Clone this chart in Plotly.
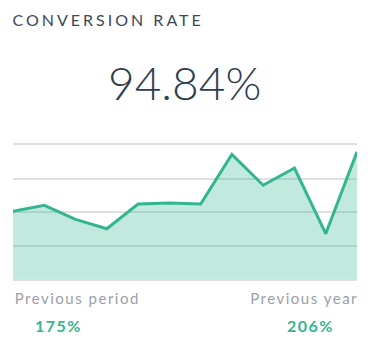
import plotly.graph_objects as go

# Conversion rate per period (%)
periods = list(range(12))
rates = [50.5, 55.0, 44.5, 37.5, 56.0, 56.7, 56.0, 93.0, 70.0, 82.8, 33.8, 94.84]

title_text = "CONVERSION RATE"
headline = "94.84%"
compare_labels = ["Previous period", "Previous year"]
compare_values = ["175%", "206%"]

W, H = 368, 349
GREEN = "#33b68f"
FILL = "rgba(51,182,143,0.30)"
GRID = "#e0e0e0"

fig = go.Figure()
fig.add_trace(go.Scatter(
    x=periods, y=rates, mode="lines",
    line=dict(color=GREEN, width=3),
    fill="tozeroy", fillcolor=FILL,
    hoverinfo="skip",
))

def px(x):
    return x / W

def py(y):
    return 1 - y / H

# Text is centred on its box, so every label is placed by its centre
annotations = [
    dict(text=title_text, x=px(108), y=py(19),
         font=dict(family="Lato", size=16, color="#3c4858")),
    dict(text=headline, x=px(185), y=py(83),
         font=dict(family="Lato", size=46, color="#2c3e50", weight=300)),
    dict(text=compare_labels[0], x=px(77), y=py(298),
         font=dict(family="Lato", size=15, color="#9aa0a8")),
    dict(text=compare_labels[1], x=px(304.5), y=py(298),
         font=dict(family="Lato", size=15, color="#9aa0a8")),
    dict(text="<b>%s</b>" % compare_values[0], x=px(58.5), y=py(325),
         font=dict(family="Lato", size=16, color=GREEN)),
    dict(text="<b>%s</b>" % compare_values[1], x=px(310), y=py(325),
         font=dict(family="Lato", size=16, color=GREEN)),
]
for a in annotations:
    a.update(xref="paper", yref="paper", showarrow=False,
             xanchor="center", yanchor="middle")

fig.update_layout(
    width=W, height=H,
    margin=dict(l=0, r=0, t=0, b=0),
    paper_bgcolor="white", plot_bgcolor="white",
    showlegend=False,
    annotations=annotations,
    xaxis=dict(domain=[13 / W, 357 / W], range=[0, 11], showgrid=False,
               zeroline=False, showticklabels=False, ticks="", fixedrange=True,
               showline=True, mirror=True, linecolor=GRID, linewidth=1.5),
    yaxis=dict(domain=[(H - 279) / H, (H - 145) / H], range=[0, 100],
               tickvals=[0, 25, 50, 75, 100], showticklabels=False, ticks="",
               showgrid=True, gridcolor=GRID, gridwidth=1.5,
               zeroline=False, fixedrange=True),
)

# Letter spacing for the card's text labels
spacing_js = """
var gaps = {"CONVERSION RATE": "3px", "Previous period": "1.5px",
            "Previous year": "1.5px", "175%": "1.5px", "206%": "1.5px"};
document.querySelectorAll('.annotation-text').forEach(function (el) {
  var g = gaps[el.textContent];
  if (g) { el.style.letterSpacing = g; }
});
"""

fig.write_html("out.html", config={"displayModeBar": False}, post_script=spacing_js)
